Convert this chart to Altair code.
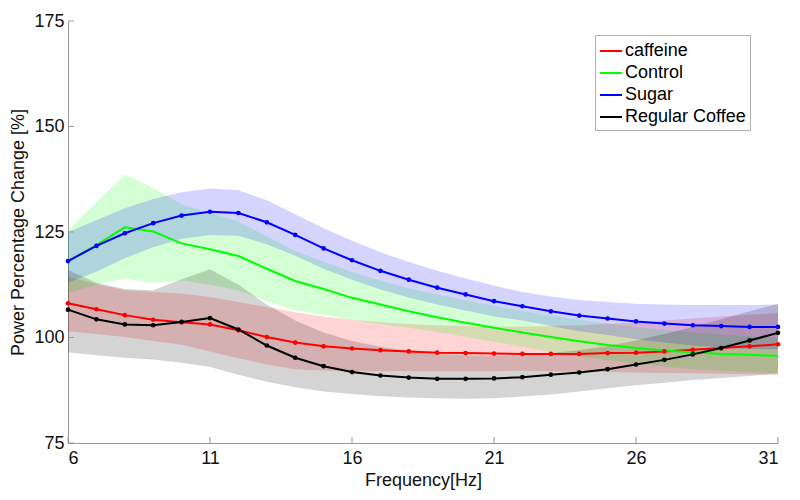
import altair as alt
import pandas as pd

# ---- data ----
freq = list(range(6, 32))
series_names = ["caffeine", "Control", "Sugar", "Regular Coffee"]
series_colors = ["#ff0000", "#00ff00", "#0000ff", "#000000"]

caffeine_mean = [108.1, 106.7, 105.3, 104.2, 103.6, 103.1, 101.7, 100.1, 98.8, 97.9, 97.4, 97.0, 96.7,
                 96.4, 96.3, 96.2, 96.1, 96.1, 96.1, 96.3, 96.4, 96.7, 97.1, 97.5, 97.9, 98.4]
caffeine_hi = [114.4, 112.7, 111.2, 110.8, 110.4, 109.6, 108.4, 107.2, 106.0, 105.0, 104.2, 103.6, 103.2,
               102.9, 102.7, 102.6, 102.6, 102.7, 102.9, 103.2, 103.6, 104.0, 104.5, 105.0, 105.4, 105.8]
caffeine_lo = [101.5, 100.8, 100.1, 99.2, 98.3, 96.7, 95.1, 93.6, 92.5, 92.2, 92.0, 92.0, 92.0,
               92.0, 92.0, 92.0, 92.1, 92.0, 91.9, 91.8, 91.7, 91.6, 91.5, 91.4, 91.3, 91.2]

control_mean = [118.1, 121.9, 126.1, 125.1, 122.3, 120.9, 119.3, 116.3, 113.4, 111.5, 109.4, 107.8, 106.2,
                104.8, 103.5, 102.3, 101.2, 100.1, 99.1, 98.2, 97.5, 96.9, 96.5, 96.1, 95.9, 95.6]
control_hi = [125.5, 132.0, 138.6, 135.5, 131.5, 129.5, 127.5, 124.0, 120.5, 118.0, 115.5, 113.5, 111.7,
              110.2, 108.8, 107.5, 106.3, 105.2, 104.2, 103.3, 102.5, 101.8, 101.2, 100.7, 100.3, 100.0]
control_lo = [110.5, 112.5, 114.0, 113.0, 113.5, 112.5, 111.2, 108.6, 106.5, 105.4, 104.2, 103.2, 102.3,
              101.3, 100.2, 99.0, 97.8, 96.6, 95.5, 94.6, 93.8, 93.1, 92.5, 92.1, 91.8, 91.5]

sugar_mean = [118.1, 121.7, 124.7, 127.1, 128.9, 129.8, 129.5, 127.3, 124.3, 121.1, 118.3, 115.8, 113.7,
              111.8, 110.2, 108.6, 107.4, 106.2, 105.2, 104.5, 103.8, 103.3, 102.9, 102.7, 102.5, 102.5]
sugar_hi = [125.0, 127.8, 130.6, 132.8, 134.4, 135.3, 134.9, 132.5, 129.2, 125.9, 122.9, 120.2, 117.9,
            115.8, 114.0, 112.3, 110.8, 109.7, 108.9, 108.4, 108.0, 107.8, 107.7, 107.7, 107.7, 107.8]
sugar_lo = [113.0, 115.6, 118.8, 121.4, 123.4, 124.3, 124.1, 122.1, 119.4, 116.3, 113.7, 111.4, 109.5,
            107.8, 106.4, 105.0, 104.0, 102.7, 101.5, 100.6, 99.6, 98.8, 98.1, 97.7, 97.3, 97.2]

coffee_mean = [106.6, 104.3, 103.1, 102.9, 103.7, 104.6, 101.9, 98.1, 95.2, 93.2, 91.8, 91.0, 90.5,
               90.2, 90.2, 90.3, 90.6, 91.2, 91.7, 92.5, 93.6, 94.7, 96.0, 97.5, 99.3, 101.1]
coffee_hi = [116.0, 113.0, 111.5, 111.2, 113.8, 116.2, 112.5, 107.8, 104.0, 101.2, 99.2, 97.8, 96.8,
             96.1, 95.8, 95.7, 95.8, 96.3, 97.0, 98.0, 99.3, 100.8, 102.5, 104.3, 106.2, 108.0]
coffee_lo = [96.5, 95.8, 95.2, 94.8, 94.0, 93.0, 91.2, 89.5, 88.2, 87.2, 86.6, 86.1, 85.8,
             85.6, 85.5, 85.6, 86.0, 86.5, 87.2, 88.0, 88.7, 89.3, 89.9, 90.4, 90.9, 91.4]

x_ticks = [6, 11, 16, 21, 26, 31]
y_ticks = [75, 100, 125, 150, 175]

# ---- tables ----
rows = []
for name, m, hi, lo in [
    ("caffeine", caffeine_mean, caffeine_hi, caffeine_lo),
    ("Control", control_mean, control_hi, control_lo),
    ("Sugar", sugar_mean, sugar_hi, sugar_lo),
    ("Regular Coffee", coffee_mean, coffee_hi, coffee_lo),
]:
    for f, a, b, c in zip(freq, m, hi, lo):
        rows.append({"freq": f, "series": name, "mean": a, "hi": b, "lo": c})
df = pd.DataFrame(rows)
df_pts = df[df["series"] != "Control"]
df_xt = pd.DataFrame({"v": x_ticks})
df_yt = pd.DataFrame({"v": y_ticks})

FONT = "Liberation Sans"
xscale = alt.Scale(domain=[6, 31], nice=False, zero=False)
yscale = alt.Scale(domain=[75, 175], nice=False, zero=False)
cscale = alt.Scale(domain=series_names, range=series_colors)

X = alt.X("freq:Q", scale=xscale,
          axis=alt.Axis(values=x_ticks, title="Frequency[Hz]", ticks=False, grid=False,
                        labelPadding=6, titlePadding=4))
Y = alt.Y("mean:Q", scale=yscale,
          axis=alt.Axis(values=y_ticks, title="Power Percentage Change [%]", ticks=False, grid=False,
                        labelPadding=4, titlePadding=6))

bands = alt.Chart(df).mark_area(fillOpacity=0.17, interpolate="linear").encode(
    x=alt.X("freq:Q", scale=xscale),
    y=alt.Y("lo:Q", scale=yscale),
    y2="hi:Q",
    color=alt.Color("series:N", scale=cscale, legend=None),
)

lines = alt.Chart(df).mark_line(strokeWidth=2).encode(
    x=X,
    y=Y,
    color=alt.Color("series:N", scale=cscale, sort=series_names,
                    legend=alt.Legend(title=None, orient="none", legendX=527, legendY=14,
                                      symbolType="stroke", symbolStrokeWidth=2, symbolSize=480,
                                      labelFontSize=18, labelFont=FONT, labelColor="#000000",
                                      fillColor="#ffffff", strokeColor="#b0b0b0", padding=4,
                                      rowPadding=1, labelOffset=2, labelLimit=300)),
)

points = alt.Chart(df_pts).mark_circle(size=22, opacity=1).encode(
    x=alt.X("freq:Q", scale=xscale),
    y=alt.Y("mean:Q", scale=yscale),
    color=alt.Color("series:N", scale=cscale, legend=None),
)

yticks = alt.Chart(df_yt).mark_rule(color="#9a9a9a", strokeWidth=1).encode(
    y=alt.Y("v:Q", scale=yscale), x=alt.value(0), x2=alt.value(6))
xticks = alt.Chart(df_xt).mark_rule(color="#9a9a9a", strokeWidth=1).encode(
    x=alt.X("v:Q", scale=xscale), y=alt.value(422), y2=alt.value(416))

chart = alt.layer(bands, lines, points, yticks, xticks).resolve_legend(
    color="independent"
).properties(
    width=710, height=422,
    autosize=alt.AutoSizeParams(type="none"),
    padding={"left": 60, "top": 13, "right": 14, "bottom": 49},
).configure_view(stroke=None).configure_axis(
    domainColor="#9a9a9a", labelFont=FONT, titleFont=FONT, labelFontSize=18, titleFontSize=18,
    labelColor="#111111", titleColor="#111111", titleFontWeight="normal",
)

chart.save("out.html", embed_options={"renderer": "svg", "actions": False})
